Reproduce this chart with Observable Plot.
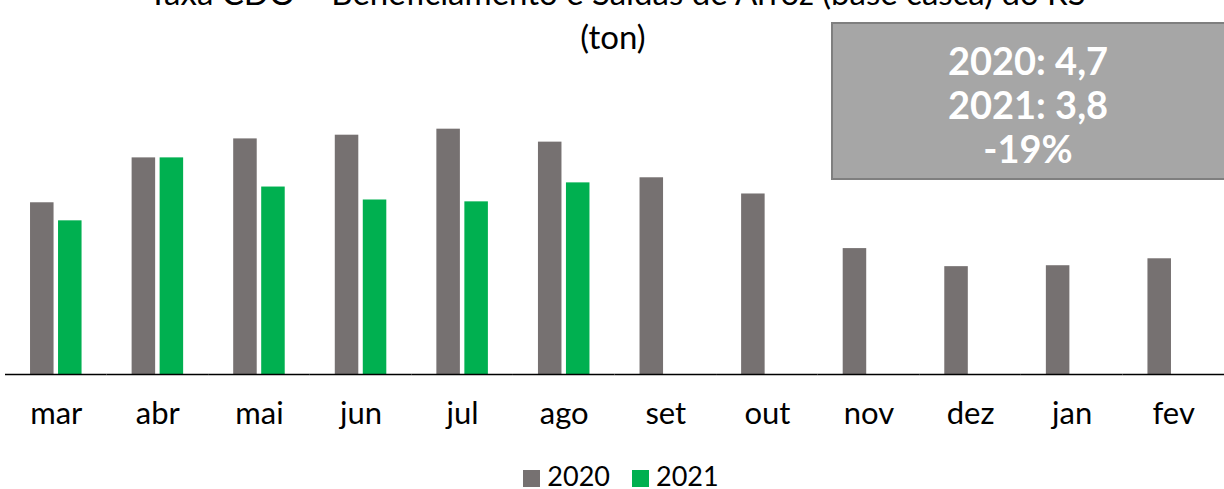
<!DOCTYPE html>
<html><head><meta charset="utf-8">
<script src="https://cdn.jsdelivr.net/npm/d3@7"></script>
<script src="https://cdn.jsdelivr.net/npm/@observablehq/plot@0.6"></script>
<style>
body{margin:0;background:#fff;font-family:Lato,"Open Sans",sans-serif;overflow:hidden;}
#wrap{position:relative;width:1224px;height:489px;overflow:hidden;}
.t{position:absolute;left:0;width:1234px;text-align:center;font-size:33px;color:#000;white-space:nowrap;line-height:1;}
#box{position:absolute;left:831px;top:22px;width:400px;height:158px;background:#a6a6a6;border:2px solid #7f7f7f;box-sizing:border-box;color:#fff;font-weight:bold;font-size:38px;text-align:center;padding-right:6px;}
#box div{height:44px;line-height:44px;}
#legend{position:absolute;top:460px;left:9px;width:1224px;text-align:center;font-size:27px;line-height:32px;}
#legend span.sw{display:inline-block;width:17px;height:17px;vertical-align:-1px;margin-right:7px;}
#legend span.it{margin:0 11px;}
#chart{position:absolute;left:0;top:0;}
</style></head><body>
<div id="wrap">
<div id="chart"></div>
<div class="t" style="top:-24px">Taxa CDO – Beneficiamento e Saídas de Arroz (base casca) do RS</div>
<div class="t" style="top:20px;left:-4px">(ton)</div>
<div id="box"><div style="margin-top:14px">2020: 4,7</div><div>2021: 3,8</div><div>-19%</div></div>
<div id="legend"></div>
</div>
<script>
const months = ["mar","abr","mai","jun","jul","ago","set","out","nov","dez","jan","fev"];
const series = ["2020","2021"];
const colors = ["#767171","#00b050"];
const values2020 = [371,468,509,517,530,502,425,390,272,233,235,250];
const values2021 = [332,468,405,377,373,414];

const data = [];
months.forEach((m,i)=>{
  data.push({month:m, year:"2020", value:values2020[i]});
  if (i < values2021.length) data.push({month:m, year:"2021", value:values2021[i]});
});

const chart = Plot.plot({
  width:1224, height:450,
  marginLeft:5, marginRight:0, marginTop:0, marginBottom:76,
  style:{fontFamily:"Lato, 'Open Sans', sans-serif", fontSize:"31px", color:"#000", background:"transparent"},
  fx:{domain:months, padding:0, round:false, label:null, tickSize:0, tickPadding:27, axis:"bottom"},
  x:{domain:series, paddingInner:0.16, paddingOuter:0.894, round:false, axis:null},
  y:{domain:[0,808], axis:null},
  color:{domain:series, range:colors},
  marks:[
    Plot.barY(data,{fx:"month", x:"year", y:"value", fill:"year"}),
    Plot.ruleY([0],{stroke:"#000", strokeWidth:1.5})
  ]
});
document.getElementById("chart").appendChild(chart);

const lg = document.getElementById("legend");
series.forEach((s,i)=>{
  const it = document.createElement("span");
  it.className="it";
  it.innerHTML = `<span class="sw" style="background:${colors[i]}"></span>${s}`;
  lg.appendChild(it);
});
</script>
</body></html>
